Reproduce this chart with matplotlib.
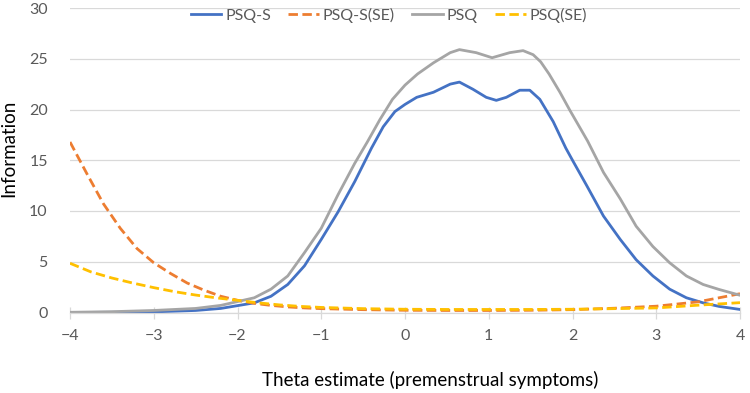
import matplotlib
matplotlib.use("Agg")
import matplotlib.pyplot as plt
import numpy as np

# values
theta_s = [-4, -3.5, -3, -2.5, -2.2, -1.8, -1.6, -1.4, -1.2, -1.0, -0.8, -0.6, -0.4, -0.26,
           -0.12, 0.0, 0.14, 0.34, 0.54, 0.65, 0.81, 0.97, 1.09, 1.21, 1.37, 1.49, 1.61, 1.77,
           1.92, 2.0, 2.17, 2.37, 2.57, 2.76, 2.96, 3.16, 3.36, 3.56, 3.75, 4.0]
psq_s = [0.0, 0.02, 0.06, 0.2, 0.4, 0.95, 1.6, 2.76, 4.6, 7.2, 9.9, 12.9, 16.2, 18.3,
         19.8, 20.5, 21.2, 21.7, 22.5, 22.7, 22.0, 21.2, 20.9, 21.2, 21.9, 21.9, 21.0, 18.8,
         16.2, 15.0, 12.5, 9.5, 7.2, 5.2, 3.6, 2.3, 1.45, 0.95, 0.6, 0.3]

theta_p = [-4, -3.5, -3, -2.5, -2.2, -1.8, -1.6, -1.4, -1.2, -1.0, -0.8, -0.6, -0.45, -0.3,
           -0.15, 0.0, 0.15, 0.34, 0.54, 0.65, 0.85, 1.04, 1.25, 1.41, 1.53, 1.62, 1.72,
           1.85, 1.97, 2.18, 2.37, 2.57, 2.76, 2.96, 3.16, 3.36, 3.56, 3.75, 4.0]
psq = [0.02, 0.08, 0.2, 0.4, 0.7, 1.45, 2.3, 3.6, 5.9, 8.3, 11.6, 14.7, 16.8, 19.0,
       21.0, 22.4, 23.5, 24.6, 25.6, 25.9, 25.6, 25.1, 25.6, 25.8, 25.4, 24.7, 23.5,
       21.7, 19.9, 16.9, 13.8, 11.2, 8.5, 6.5, 4.9, 3.6, 2.76, 2.27, 1.7]

theta_sse = [-4.0, -3.8, -3.6, -3.4, -3.2, -3.0, -2.8, -2.6, -2.4, -2.2, -2.0, -1.8, -1.6,
             -1.4, -1.2, -1.0, -0.5, 0, 0.5, 1, 1.5, 2, 2.5, 3, 3.5, 4]
psq_s_se = [16.8, 13.7, 10.7, 8.3, 6.3, 4.9, 3.85, 2.9, 2.2, 1.6, 1.2, 0.9, 0.7,
            0.55, 0.45, 0.38, 0.28, 0.22, 0.2, 0.2, 0.22, 0.28, 0.42, 0.62, 1.05, 1.85]

theta_pse = [-4.0, -3.75, -3.5, -3.25, -3.0, -2.75, -2.5, -2.25, -2.0, -1.75, -1.5, -1.25,
             -1.0, -0.5, 0, 0.5, 1, 1.5, 2, 2.5, 3, 3.5, 4]
psq_se = [4.85, 4.0, 3.4, 2.9, 2.45, 2.05, 1.72, 1.44, 1.2, 0.95, 0.75, 0.6,
          0.5, 0.38, 0.32, 0.3, 0.3, 0.3, 0.32, 0.38, 0.45, 0.72, 0.97]

plt.rcParams['font.family'] = ['Lato', 'DejaVu Sans']

fig = plt.figure(figsize=(7.5, 3.93), dpi=100)
ax = fig.add_axes([70/750, 1-312.5/393, 670/750, 304.5/393])

lw = 2.0
dash = (0, (3.4, 1.6))
ax.plot(theta_s, psq_s, color='#4472C4', lw=lw, label='PSQ-S', solid_joinstyle='round')
ax.plot(theta_sse, psq_s_se, color='#ED7D31', lw=lw, ls=dash, label='PSQ-S(SE)')
ax.plot(theta_p, psq, color='#A5A5A5', lw=lw, label='PSQ', solid_joinstyle='round')
ax.plot(theta_pse, psq_se, color='#FFC000', lw=lw, ls=dash, label='PSQ(SE)')

ax.set_xlim(-4, 4)
ax.set_ylim(0, 30)
ax.set_xticks(range(-4, 5))
ax.set_yticks(range(0, 31, 5))
ax.grid(axis='y', color='#D9D9D9', lw=0.9)
ax.set_axisbelow(True)
for s in ['top', 'right', 'left']:
    ax.spines[s].set_visible(False)
ax.spines['bottom'].set_color('#D9D9D9')
ax.spines['bottom'].set_linewidth(0.9)
ax.tick_params(axis='x', direction='inout', length=8, color='#D9D9D9', width=0.9,
               labelsize=11.5, labelcolor='#595959', pad=8)
ax.tick_params(axis='y', length=0, labelsize=11.5, labelcolor='#595959', pad=16)

fig.text(9/750, 1-148/393, 'Information', rotation=90, ha='center', va='center',
         fontsize=13.5, color='#000000')
fig.text(430/750, 1-380/393, 'Theta estimate (premenstrual symptoms)', ha='center',
         va='center', fontsize=13.5, color='#000000')

ax.legend(loc='center', bbox_to_anchor=(389/750, 1-15/393), bbox_transform=fig.transFigure,
          ncol=4, frameon=False, fontsize=11.5, handlelength=1.9, handletextpad=0.25,
          columnspacing=1.1, labelcolor='#595959')

fig.savefig('out.png', dpi=100)
